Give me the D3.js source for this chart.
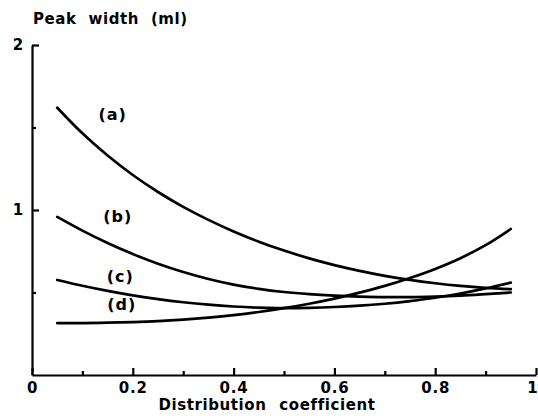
<!DOCTYPE html>
<meta charset="utf-8">
<style>
 body {
   margin: 0;
   background-color: #fff;
 }

 svg {
   font-family: "DejaVu Sans", sans-serif;
   font-weight: bold;
 }

 .axis path, .axis line {
   stroke: #000;
   stroke-width: 2.2;
 }

 .axis text {
   fill: #000;
   font-size: 15px;
   font-weight: bold;
   font-family: "DejaVu Sans", sans-serif;
   letter-spacing: 0.8px;
 }

 .curve {
   fill: none;
   stroke: #000;
   stroke-width: 2.7;
   stroke-linecap: round;
 }

 .label {
   font-size: 16px;
   letter-spacing: 1px;
 }

 .title {
   font-size: 15px;
   letter-spacing: 0.6px;
   word-spacing: 7px;
 }
</style>

<svg width="538" height="420"></svg>

<script src="https://cdn.jsdelivr.net/npm/d3@7"></script>
<script>

 // distribution coefficient, sampled where the curves were read
 var coeff = [0.05, 0.1, 0.15, 0.2, 0.25, 0.3, 0.35, 0.4, 0.45, 0.5,
              0.55, 0.6, 0.65, 0.7, 0.75, 0.8, 0.85, 0.9, 0.95]

 // peak width (ml)
 var widthA = [1.62, 1.465, 1.33, 1.212, 1.109, 1.019, 0.94, 0.87, 0.808, 0.754,
               0.707, 0.666, 0.631, 0.601, 0.576, 0.556, 0.54, 0.528, 0.52]
 var widthB = [0.958, 0.875, 0.80, 0.733, 0.674, 0.624, 0.582, 0.548, 0.522, 0.503,
               0.49, 0.481, 0.475, 0.472, 0.472, 0.475, 0.481, 0.49, 0.50]
 var widthC = [0.576, 0.541, 0.51, 0.483, 0.46, 0.441, 0.426, 0.415, 0.408, 0.405,
               0.407, 0.412, 0.42, 0.432, 0.448, 0.468, 0.494, 0.525, 0.56]
 var widthD = [0.315, 0.315, 0.317, 0.321, 0.327, 0.336, 0.348, 0.363, 0.382, 0.405,
               0.432, 0.463, 0.499, 0.54, 0.588, 0.643, 0.708, 0.787, 0.885]

 var seriesNames = ['(a)', '(b)', '(c)', '(d)']
 // where each label sits, in data units
 var labelCoeff = [0.16, 0.17, 0.175, 0.178]
 var labelWidth = [1.58, 0.96, 0.6, 0.43]

 var xTicks = [0, 0.2, 0.4, 0.6, 0.8, 1]
 var xMinorTicks = [0.1, 0.3, 0.5, 0.7, 0.9]
 var yTicks = [1, 2]
 var yMinorTicks = [0.5, 1.5]

 var svg = d3.select('svg')

 var x = d3.scaleLinear().domain([0, 1]).range([32, 536])
 var y = d3.scaleLinear().domain([0, 2]).range([375, 45])

 // minor ticks first, no labels
 svg.append('g')
    .attr('class', 'axis')
    .attr('transform', `translate(0,${y(0)})`)
    .call(d3.axisBottom(x).tickValues(xMinorTicks).tickSize(-4).tickFormat(''))
    .select('.domain').remove()
 svg.append('g')
    .attr('class', 'axis')
    .attr('transform', `translate(${x(0)},0)`)
    .call(d3.axisLeft(y).tickValues(yMinorTicks).tickSize(-4).tickFormat(''))
    .select('.domain').remove()

 var xAxis = svg.append('g')
    .attr('class', 'axis')
    .attr('transform', `translate(0,${y(0)})`)
    .call(d3.axisBottom(x).tickValues(xTicks).tickSizeInner(-7).tickSizeOuter(0)
            .tickPadding(7).tickFormat(d => d === 0 || d === 1 ? String(d) : d.toFixed(1)))

 // last label sits flush with the right edge
 xAxis.selectAll('.tick text')
      .filter(d => d === 1)
      .attr('text-anchor', 'end')
      .attr('dx', '2px')

 svg.append('g')
    .attr('class', 'axis')
    .attr('transform', `translate(${x(0)},0)`)
    .call(d3.axisLeft(y).tickValues(yTicks).tickSizeInner(-7).tickSizeOuter(0)
            .tickPadding(8).tickFormat(d3.format('d')))

 var line = d3.line()
              .x((d, i) => x(coeff[i]))
              .y(d => y(d))
              .curve(d3.curveMonotoneX)

 var series = [widthA, widthB, widthC, widthD]
 svg.selectAll('.curve')
    .data(series)
    .enter().append('path')
    .attr('class', 'curve')
    .attr('d', line)

 svg.selectAll('.label')
    .data(seriesNames)
    .enter().append('text')
    .attr('class', 'label')
    .attr('x', (d, i) => x(labelCoeff[i]))
    .attr('y', (d, i) => y(labelWidth[i]))
    .attr('text-anchor', 'middle')
    .attr('dy', '0.35em')
    .text(d => d)

 svg.append('text')
    .attr('class', 'title')
    .attr('x', 33)
    .attr('y', 24)
    .style('word-spacing', '6px')
    .text('Peak width (ml)')

 svg.append('text')
    .attr('class', 'title')
    .attr('x', 267)
    .attr('y', 410)
    .attr('text-anchor', 'middle')
    .text('Distribution coefficient')

</script>
